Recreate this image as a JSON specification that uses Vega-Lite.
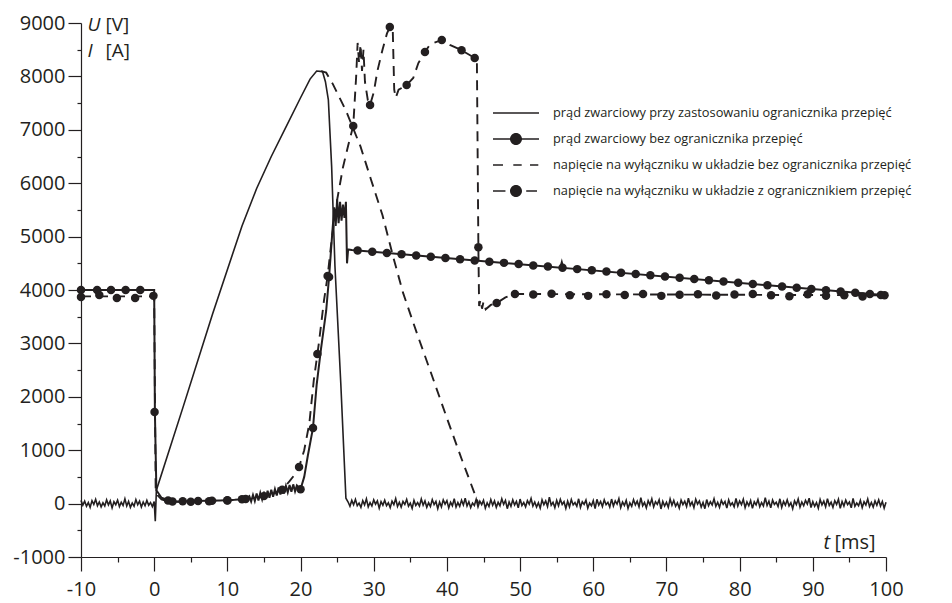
{
"$schema": "https://vega.github.io/schema/vega-lite/v6.json",
"width": 805, "height": 534,
"autosize": {"type": "none"},
"padding": {"left": 81, "top": 23, "right": 66, "bottom": 46},
"background": "white",
"config": {"view": {"stroke": null},
  "axis": {"grid": false, "domainColor": "#231f20", "tickColor": "#231f20", "labelColor": "#231f20", "labelFont": "Open Sans", "labelFontSize": 20, "domainWidth": 1.2, "tickWidth": 1.2,
    "titleFont": "Open Sans", "titleFontSize": 20, "titleFontWeight": "normal", "titleColor": "#231f20", "titleAngle": 0, "titleAlign": "left", "titleBaseline": "alphabetic", "titleLineHeight": 21}},
"datasets": {
"a": [{"t":-10,"v":60},{"t":-9.75,"v":-30},{"t":-9.5,"v":45},{"t":-9.25,"v":-50},{"t":-9,"v":20},{"t":-8.75,"v":-70},{"t":-8.5,"v":55},{"t":-8.25,"v":-15},{"t":-8,"v":80},{"t":-7.75,"v":-40},{"t":-7.5,"v":30},{"t":-7.25,"v":-60},{"t":-7,"v":15},{"t":-6.75,"v":-45},{"t":-6.5,"v":70},{"t":-6.25,"v":-25},{"t":-6,"v":50},{"t":-5.75,"v":-80},{"t":-5.5,"v":35},{"t":-5.25,"v":-20},
{"t":-5,"v":65},{"t":-4.75,"v":-55},{"t":-4.5,"v":25},{"t":-4.25,"v":-35},{"t":-4,"v":90},{"t":-3.75,"v":-45},{"t":-3.5,"v":40},{"t":-3.25,"v":-70},{"t":-3,"v":10},{"t":-2.75,"v":-50},{"t":-2.5,"v":75},{"t":-2.25,"v":-20},{"t":-2,"v":45},{"t":-1.75,"v":-65},{"t":-1.5,"v":30},{"t":-1.25,"v":-40},{"t":-1,"v":60},{"t":-0.75,"v":-30},{"t":-0.5,"v":20},{"t":-0.25,"v":-55},{"t":0,"v":40},
{"t":0.15,"v":-330},{"t":0.3,"v":250},{"t":4,"v":1830},{"t":8,"v":3560},{"t":12,"v":5200},{"t":14,"v":5900},{"t":16,"v":6500},{"t":18,"v":7050},{"t":20,"v":7600},{"t":21.3,"v":7950},{"t":22.2,"v":8100},{"t":23,"v":8090},{"t":23.4,"v":7900},{"t":23.8,"v":7560},{"t":24.25,"v":6310},{"t":24.7,"v":4450},{"t":25.5,"v":2250},{"t":26.2,"v":100},
{"t":26.5,"v":30},{"t":26.75,"v":-50},{"t":27,"v":60},{"t":27.25,"v":-20},{"t":27.5,"v":80},{"t":27.75,"v":-40},{"t":28,"v":10},{"t":28.25,"v":-70},{"t":28.5,"v":55},{"t":28.75,"v":-25},{"t":29,"v":90},{"t":29.25,"v":-60},{"t":29.5,"v":20},{"t":29.75,"v":-45},{"t":30,"v":70},{"t":30.25,"v":-10},{"t":30.5,"v":50},{"t":30.75,"v":-85},{"t":31,"v":35},{"t":31.25,"v":-30},
{"t":31.5,"v":65},{"t":31.75,"v":-40},{"t":32,"v":15},{"t":32.25,"v":-75},{"t":32.5,"v":45},{"t":32.75,"v":-20},{"t":33,"v":95},{"t":33.25,"v":-55},{"t":33.5,"v":25},{"t":33.75,"v":-65},{"t":34,"v":40},{"t":34.25,"v":-15},{"t":34.5,"v":80},{"t":34.75,"v":-50},{"t":35,"v":10},{"t":35.25,"v":-90},{"t":35.5,"v":60},{"t":35.75,"v":-35},{"t":36,"v":20},{"t":36.25,"v":-45},
{"t":36.5,"v":85},{"t":36.75,"v":-30},{"t":37,"v":50},{"t":37.25,"v":-70},{"t":37.5,"v":15},{"t":37.75,"v":-55},{"t":38,"v":75},{"t":38.25,"v":-20},{"t":38.5,"v":40},{"t":38.75,"v":-95},{"t":39,"v":30},{"t":39.25,"v":-60},{"t":39.5,"v":70},{"t":39.75,"v":-10},{"t":40,"v":55},{"t":40.25,"v":-80},{"t":40.5,"v":25},{"t":40.75,"v":-40},{"t":41,"v":90},{"t":41.25,"v":-65},
{"t":41.5,"v":20},{"t":41.75,"v":-50},{"t":42,"v":65},{"t":42.25,"v":-25},{"t":42.5,"v":100},{"t":42.75,"v":-45},{"t":43,"v":35},{"t":43.25,"v":-75},{"t":43.5,"v":10},{"t":43.75,"v":-35},{"t":44,"v":80},{"t":44.25,"v":-60},{"t":44.5,"v":45},{"t":44.75,"v":-20},{"t":45,"v":60},{"t":45.25,"v":-85},{"t":45.5,"v":15},{"t":45.75,"v":-55},{"t":46,"v":75},{"t":46.25,"v":-30},
{"t":46.5,"v":50},{"t":46.75,"v":-70},{"t":47,"v":25},{"t":47.25,"v":-40},{"t":47.5,"v":90},{"t":47.75,"v":-15},{"t":48,"v":60},{"t":48.25,"v":-95},{"t":48.5,"v":30},{"t":48.75,"v":-50},{"t":49,"v":70},{"t":49.25,"v":-25},{"t":49.5,"v":40},{"t":49.75,"v":-80},{"t":50,"v":85},{"t":50.25,"v":-35},{"t":50.5,"v":20},{"t":50.75,"v":-60},{"t":51,"v":55},{"t":51.25,"v":-10},
{"t":51.5,"v":95},{"t":51.75,"v":-45},{"t":52,"v":30},{"t":52.25,"v":-65},{"t":52.5,"v":15},{"t":52.75,"v":-85},{"t":53,"v":70},{"t":53.25,"v":-20},{"t":53.5,"v":50},{"t":53.75,"v":-55},{"t":54,"v":120},{"t":54.25,"v":-30},{"t":54.5,"v":25},{"t":54.75,"v":-75},{"t":55,"v":60},{"t":55.25,"v":-40},{"t":55.5,"v":80},{"t":55.75,"v":-15},{"t":56,"v":35},{"t":56.25,"v":-90},
{"t":56.5,"v":45},{"t":56.75,"v":-60},{"t":57,"v":75},{"t":57.25,"v":-25},{"t":57.5,"v":20},{"t":57.75,"v":-50},{"t":58,"v":90},{"t":58.25,"v":-70},{"t":58.5,"v":35},{"t":58.75,"v":-15},{"t":59,"v":65},{"t":59.25,"v":-85},{"t":59.5,"v":10},{"t":59.75,"v":-40},{"t":60,"v":55},{"t":60.25,"v":-95},{"t":60.5,"v":80},{"t":60.75,"v":-30},{"t":61,"v":40},{"t":61.25,"v":-55},
{"t":61.5,"v":70},{"t":61.75,"v":-20},{"t":62,"v":25},{"t":62.25,"v":-65},{"t":62.5,"v":85},{"t":62.75,"v":-45},{"t":63,"v":50},{"t":63.25,"v":-10},{"t":63.5,"v":95},{"t":63.75,"v":-75},{"t":64,"v":30},{"t":64.25,"v":-35},{"t":64.5,"v":60},{"t":64.75,"v":-90},{"t":65,"v":15},{"t":65.25,"v":-50},{"t":65.5,"v":75},{"t":65.75,"v":-25},{"t":66,"v":45},{"t":66.25,"v":-60},
{"t":66.5,"v":110},{"t":66.75,"v":-40},{"t":67,"v":20},{"t":67.25,"v":-80},{"t":67.5,"v":55},{"t":67.75,"v":-25},{"t":68,"v":90},{"t":68.25,"v":-60},{"t":68.5,"v":35},{"t":68.75,"v":-15},{"t":69,"v":70},{"t":69.25,"v":-100},{"t":69.5,"v":40},{"t":69.75,"v":-45},{"t":70,"v":25},{"t":70.25,"v":-70},{"t":70.5,"v":85},{"t":70.75,"v":-30},{"t":71,"v":60},{"t":71.25,"v":-50},
{"t":71.5,"v":15},{"t":71.75,"v":-85},{"t":72,"v":65},{"t":72.25,"v":-20},{"t":72.5,"v":45},{"t":72.75,"v":-55},{"t":73,"v":100},{"t":73.25,"v":-35},{"t":73.5,"v":30},{"t":73.75,"v":-75},{"t":74,"v":80},{"t":74.25,"v":-10},{"t":74.5,"v":50},{"t":74.75,"v":-65},{"t":75,"v":20},{"t":75.25,"v":-95},{"t":75.5,"v":75},{"t":75.75,"v":-40},{"t":76,"v":35},{"t":76.25,"v":-25},
{"t":76.5,"v":90},{"t":76.75,"v":-50},{"t":77,"v":25},{"t":77.25,"v":-70},{"t":77.5,"v":60},{"t":77.75,"v":-15},{"t":78,"v":40},{"t":78.25,"v":-85},{"t":78.5,"v":70},{"t":78.75,"v":-30},{"t":79,"v":15},{"t":79.25,"v":-60},{"t":79.5,"v":95},{"t":79.75,"v":-45},{"t":80,"v":50},{"t":80.25,"v":-20},{"t":80.5,"v":80},{"t":80.75,"v":-75},{"t":81,"v":30},{"t":81.25,"v":-40},
{"t":81.5,"v":55},{"t":81.75,"v":-90},{"t":82,"v":35},{"t":82.25,"v":-25},{"t":82.5,"v":75},{"t":82.75,"v":-60},{"t":83,"v":20},{"t":83.25,"v":-45},{"t":83.5,"v":110},{"t":83.75,"v":-35},{"t":84,"v":45},{"t":84.25,"v":-80},{"t":84.5,"v":65},{"t":84.75,"v":-15},{"t":85,"v":25},{"t":85.25,"v":-55},{"t":85.5,"v":90},{"t":85.75,"v":-70},{"t":86,"v":40},{"t":86.25,"v":-30},
{"t":86.5,"v":70},{"t":86.75,"v":-45},{"t":87,"v":15},{"t":87.25,"v":-95},{"t":87.5,"v":50},{"t":87.75,"v":-20},{"t":88,"v":85},{"t":88.25,"v":-65},{"t":88.5,"v":30},{"t":88.75,"v":-40},{"t":89,"v":60},{"t":89.25,"v":-10},{"t":89.5,"v":100},{"t":89.75,"v":-75},{"t":90,"v":35},{"t":90.25,"v":-50},{"t":90.5,"v":20},{"t":90.75,"v":-85},{"t":91,"v":75},{"t":91.25,"v":-25},
{"t":91.5,"v":45},{"t":91.75,"v":-60},{"t":92,"v":90},{"t":92.25,"v":-35},{"t":92.5,"v":25},{"t":92.75,"v":-70},{"t":93,"v":55},{"t":93.25,"v":-15},{"t":93.5,"v":80},{"t":93.75,"v":-90},{"t":94,"v":40},{"t":94.25,"v":-45},{"t":94.5,"v":65},{"t":94.75,"v":-20},{"t":95,"v":30},{"t":95.25,"v":-80},{"t":95.5,"v":95},{"t":95.75,"v":-50},{"t":96,"v":10},{"t":96.25,"v":-40},
{"t":96.5,"v":60},{"t":96.75,"v":-75},{"t":97,"v":35},{"t":97.25,"v":-25},{"t":97.5,"v":85},{"t":97.75,"v":-55},{"t":98,"v":20},{"t":98.25,"v":-65},{"t":98.5,"v":50},{"t":98.75,"v":-30},{"t":99,"v":70},{"t":99.25,"v":-45},{"t":99.5,"v":40},{"t":99.75,"v":-85},{"t":100,"v":25}],
"b": [{"t":-10,"v":4000},{"t":0,"v":4000},{"t":0.1,"v":1700},{"t":0.3,"v":250},{"t":1,"v":110},{"t":2,"v":60},{"t":3,"v":40},{"t":5,"v":45},{"t":7,"v":55},{"t":9,"v":60},{"t":11,"v":70},{"t":12.5,"v":85},{"t":13,"v":140},{"t":13.25,"v":40},{"t":13.5,"v":160},{"t":13.75,"v":50},{"t":14,"v":190},{"t":14.25,"v":60},{"t":14.5,"v":200},{"t":14.75,"v":80},{"t":15,"v":220},{"t":15.25,"v":90},{"t":15.5,"v":240},{"t":15.75,"v":110},{"t":16,"v":260},{"t":16.25,"v":130},{"t":16.5,"v":270},{"t":16.75,"v":150},{"t":17,"v":300},{"t":17.25,"v":170},{"t":17.5,"v":320},{"t":17.75,"v":190},{"t":18,"v":330},{"t":18.25,"v":210},{"t":18.5,"v":350},{"t":18.75,"v":220},{"t":19,"v":360},{"t":19.25,"v":230},{"t":19.5,"v":340},{"t":20,"v":270},{"t":20.5,"v":500},{"t":21,"v":900},{"t":21.7,"v":1416},{"t":22.2,"v":2222},{"t":22.8,"v":2900},{"t":23.5,"v":3607},{"t":23.9,"v":4244},{"t":24.3,"v":5000},{"t":24.6,"v":5550},{"t":24.8,"v":5200},{"t":25,"v":5700},{"t":25.2,"v":5250},{"t":25.4,"v":5650},{"t":25.6,"v":5300},{"t":25.8,"v":5600},{"t":26,"v":5350},{"t":26.2,"v":5650},{"t":26.35,"v":4500},{"t":26.5,"v":4760},{"t":27,"v":4750},{"t":55.5,"v":4418},{"t":55.7,"v":4520},{"t":55.9,"v":4414},{"t":100,"v":3900}],
"c": [{"t":22.8,"v":8100},{"t":23.5,"v":8070},{"t":24.4,"v":7860},{"t":26.2,"v":7360},{"t":28.2,"v":6685},{"t":29.6,"v":6080},{"t":31.2,"v":5400},{"t":32.7,"v":4600},{"t":34,"v":3950},{"t":36,"v":3150},{"t":38,"v":2380},{"t":40,"v":1600},{"t":42,"v":840},{"t":44.3,"v":0}],
"d": [{"t":-10,"v":3880},{"t":0,"v":3880},{"t":0.1,"v":2000},{"t":0.2,"v":300},{"t":0.5,"v":150},{"t":1,"v":80},{"t":2,"v":40},{"t":4,"v":30},{"t":6,"v":40},{"t":8,"v":50},{"t":10,"v":60},{"t":12,"v":80},{"t":14,"v":110},{"t":16,"v":170},{"t":17.5,"v":260},{"t":18.5,"v":420},{"t":19.3,"v":560},{"t":19.8,"v":686},{"t":20.5,"v":1000},{"t":21.2,"v":1500},{"t":21.8,"v":2300},{"t":22.5,"v":3000},{"t":23.2,"v":3800},{"t":23.7,"v":4263},{"t":24.3,"v":5000},{"t":25,"v":5687},{"t":25.8,"v":6300},{"t":26.5,"v":6700},{"t":27.2,"v":7073},{"t":27.6,"v":8000},{"t":27.8,"v":8627},{"t":28,"v":8250},{"t":28.2,"v":8600},{"t":28.4,"v":8100},{"t":28.6,"v":8500},{"t":28.8,"v":7900},{"t":29.2,"v":7550},{"t":29.5,"v":7464},{"t":30,"v":7700},{"t":30.5,"v":8100},{"t":31.2,"v":8500},{"t":31.8,"v":8800},{"t":32.2,"v":8925},{"t":32.6,"v":8880},{"t":32.8,"v":7750},{"t":33,"v":7600},{"t":33.4,"v":7750},{"t":34.5,"v":7839},{"t":35.4,"v":7970},{"t":36.1,"v":8250},{"t":37,"v":8457},{"t":37.7,"v":8600},{"t":39.3,"v":8682},{"t":40.4,"v":8590},{"t":42,"v":8490},{"t":43.8,"v":8346},{"t":44.1,"v":8250},{"t":44.3,"v":4800},{"t":44.4,"v":3700},{"t":44.6,"v":3820},{"t":44.8,"v":3650},{"t":45,"v":3780},{"t":45.3,"v":3640},{"t":46,"v":3720},{"t":46.8,"v":3757},{"t":48,"v":3860},{"t":49.3,"v":3926},{"t":100,"v":3900}],
"bp": [{"t":-10,"v":4000},{"t":-7.8,"v":4000},{"t":-5.9,"v":4000},{"t":-3.9,"v":4000},{"t":-1.9,"v":4000},{"t":0.05,"v":1716},{"t":1.9,"v":60},{"t":3.9,"v":42},{"t":6,"v":48},{"t":7.9,"v":55},{"t":10,"v":62},{"t":12,"v":80},{"t":20,"v":270},{"t":21.7,"v":1416},{"t":23.9,"v":4244},
{"t":27.8,"v":4741},{"t":29.8,"v":4717},{"t":31.8,"v":4694},{"t":33.8,"v":4671},{"t":35.8,"v":4648},{"t":37.8,"v":4624},{"t":39.8,"v":4601},{"t":41.8,"v":4578},{"t":43.8,"v":4554},{"t":45.8,"v":4531},{"t":47.8,"v":4508},{"t":49.8,"v":4485},{"t":51.8,"v":4461},{"t":53.8,"v":4438},{"t":55.8,"v":4415},{"t":57.8,"v":4391},{"t":59.8,"v":4368},{"t":61.8,"v":4345},{"t":63.8,"v":4322},{"t":65.8,"v":4298},{"t":67.8,"v":4275},{"t":69.8,"v":4252},{"t":71.8,"v":4229},{"t":73.8,"v":4205},{"t":75.8,"v":4182},{"t":77.8,"v":4159},{"t":79.8,"v":4135},{"t":81.8,"v":4112},{"t":83.8,"v":4089},{"t":85.8,"v":4066},{"t":87.8,"v":4042},{"t":89.8,"v":4019},{"t":91.8,"v":3996},{"t":93.8,"v":3973},{"t":95.8,"v":3949},{"t":97.8,"v":3926},{"t":99.8,"v":3903}],
"dp": [{"t":-10,"v":3870},{"t":-7.5,"v":3905},{"t":-5.1,"v":3850},{"t":-2.6,"v":3850},{"t":-0.1,"v":3890},{"t":2.5,"v":40},{"t":5,"v":35},{"t":7.5,"v":45},{"t":10,"v":60},{"t":12.5,"v":85},{"t":15,"v":140},{"t":17.5,"v":260},{"t":19.8,"v":686},{"t":22.3,"v":2800},{"t":23.7,"v":4263},{"t":27.2,"v":7073},{"t":29.5,"v":7464},{"t":32.2,"v":8925},{"t":34.5,"v":7839},{"t":37,"v":8457},{"t":39.3,"v":8682},{"t":42,"v":8490},{"t":43.8,"v":8346},{"t":44.3,"v":4800},{"t":46.8,"v":3757},{"t":49.3,"v":3926},
{"t":51.8,"v":3915},{"t":54.3,"v":3930},{"t":56.8,"v":3900},{"t":59.3,"v":3890},{"t":61.8,"v":3920},{"t":64.3,"v":3905},{"t":66.8,"v":3925},{"t":69.3,"v":3890},{"t":71.8,"v":3910},{"t":74.3,"v":3920},{"t":76.8,"v":3895},{"t":79.3,"v":3915},{"t":81.8,"v":3925},{"t":84.3,"v":3900},{"t":86.8,"v":3885},{"t":89.3,"v":3920},{"t":91.8,"v":3890},{"t":94.3,"v":3900},{"t":96.8,"v":3880},{"t":99.3,"v":3905}],
"leg": [{"s":"prąd zwarciowy przy zastosowaniu ogranicznika przepięć"},{"s":"prąd zwarciowy bez ogranicznika przepięć"},{"s":"napięcie na wyłączniku w układzie bez ogranicznika przepięć"},{"s":"napięcie na wyłączniku w układzie z ogranicznikiem przepięć"}]
},
"layer": [
 {
  "encoding": {
    "x": {"field": "t", "type": "quantitative", "scale": {"domain": [-10, 100], "nice": false, "zero": false},
      "axis": {"orient": "bottom", "values": [-10,-5,0,5,10,15,20,25,30,35,40,45,50,55,60,65,70,75,80,85,90,95,100],
        "labelExpr": "datum.value % 10 === 0 ? '' + datum.value : ''",
        "tickSize": {"condition": {"test": "datum.value % 10 === 0", "value": 14}, "value": 5},
        "labelPadding": 8, "labelFlush": false, "labelOverlap": false,
        "title": "t", "titleFontStyle": "italic", "titleX": 742, "titleY": -9}},
    "y": {"field": "v", "type": "quantitative", "scale": {"domain": [-1000, 9000], "nice": false, "zero": false},
      "axis": {"orient": "left", "values": [-1000,-500,0,500,1000,1500,2000,2500,3000,3500,4000,4500,5000,5500,6000,6500,7000,7500,8000,8500,9000],
        "labelExpr": "datum.value % 1000 === 0 ? '' + datum.value : ''",
        "tickSize": {"condition": {"test": "datum.value % 1000 === 0", "value": 13}, "value": 4},
        "labelPadding": 3, "labelFlush": false, "labelOverlap": false,
        "title": ["U", "I"], "titleFontStyle": "italic", "titleFontSize": 19, "titleLineHeight": 26, "titleX": 6, "titleY": 7}}
  },
  "layer": [
    {"data": {"name": "a"}, "mark": {"type": "line", "color": "#231f20", "strokeWidth": 1.6}},
    {"data": {"name": "b"}, "mark": {"type": "line", "color": "#231f20", "strokeWidth": 2}},
    {"data": {"name": "c"}, "mark": {"type": "line", "color": "#231f20", "strokeWidth": 1.9, "strokeDash": [10, 7]}},
    {"data": {"name": "d"}, "mark": {"type": "line", "color": "#231f20", "strokeWidth": 1.9, "strokeDash": [10, 7]}},
    {"data": {"name": "bp"}, "mark": {"type": "point", "filled": true, "color": "#231f20", "opacity": 1, "size": 72}},
    {"data": {"name": "dp"}, "mark": {"type": "point", "filled": true, "color": "#231f20", "opacity": 1, "size": 72}}
  ]
 },
 {
  "data": {"name": "leg"}, "transform": [{"filter": "false"}],
  "mark": {"type": "point", "filled": true, "color": "#231f20", "opacity": 1},
  "encoding": {
    "x": {"field": "t", "type": "quantitative", "scale": {"domain": [-10, 100], "nice": false, "zero": false},
      "axis": {"orient": "top", "domain": false, "ticks": false, "labels": false, "title": "[ms]", "titleX": 753, "titleY": 525}},
    "y": {"field": "v", "type": "quantitative", "scale": {"domain": [-1000, 9000], "nice": false, "zero": false},
      "axis": {"orient": "right", "domain": false, "ticks": false, "labels": false, "title": ["[V]", "[A]"], "titleFontSize": 19, "titleLineHeight": 26, "titleX": -781, "titleY": 7}},
    "shape": {"field": "s", "type": "nominal", "sort": null,
      "scale": {"domain": ["prąd zwarciowy przy zastosowaniu ogranicznika przepięć","prąd zwarciowy bez ogranicznika przepięć","napięcie na wyłączniku w układzie bez ogranicznika przepięć","napięcie na wyłączniku w układzie z ogranicznikiem przepięć"],
        "range": ["M-1.353,-0.05H1.353V0.05H-1.353Z",
                  "M-1.353,-0.05H-0.29V0.05H-1.353ZM0.29,-0.05H1.353V0.05H0.29ZM-0.353,0A0.353,0.353,0,1,1,0.353,0A0.353,0.353,0,1,1,-0.353,0Z",
                  "M-1.353,-0.05H-0.765V0.05H-1.353ZM-0.159,-0.05H0.335V0.05H-0.159ZM0.824,-0.05H1.312V0.05H0.824Z",
                  "M-1.353,-0.05H-0.62V0.05H-1.353ZM0.6,-0.05H1.235V0.05H0.6ZM-0.353,0A0.353,0.353,0,1,1,0.353,0A0.353,0.353,0,1,1,-0.353,0Z"]},
      "legend": {"orient": "none", "legendX": 418, "legendY": 73, "title": null, "symbolSize": 1156,
        "labelFont": "Open Sans", "labelFontSize": 12.8, "labelColor": "#231f20", "labelOffset": 20, "labelLimit": 600,
        "symbolFillColor": "#231f20", "symbolStrokeWidth": 0}}
  }
 }
],
"resolve": {"scale": {"x": "independent", "y": "independent"}, "axis": {"x": "independent", "y": "independent"}}
}
